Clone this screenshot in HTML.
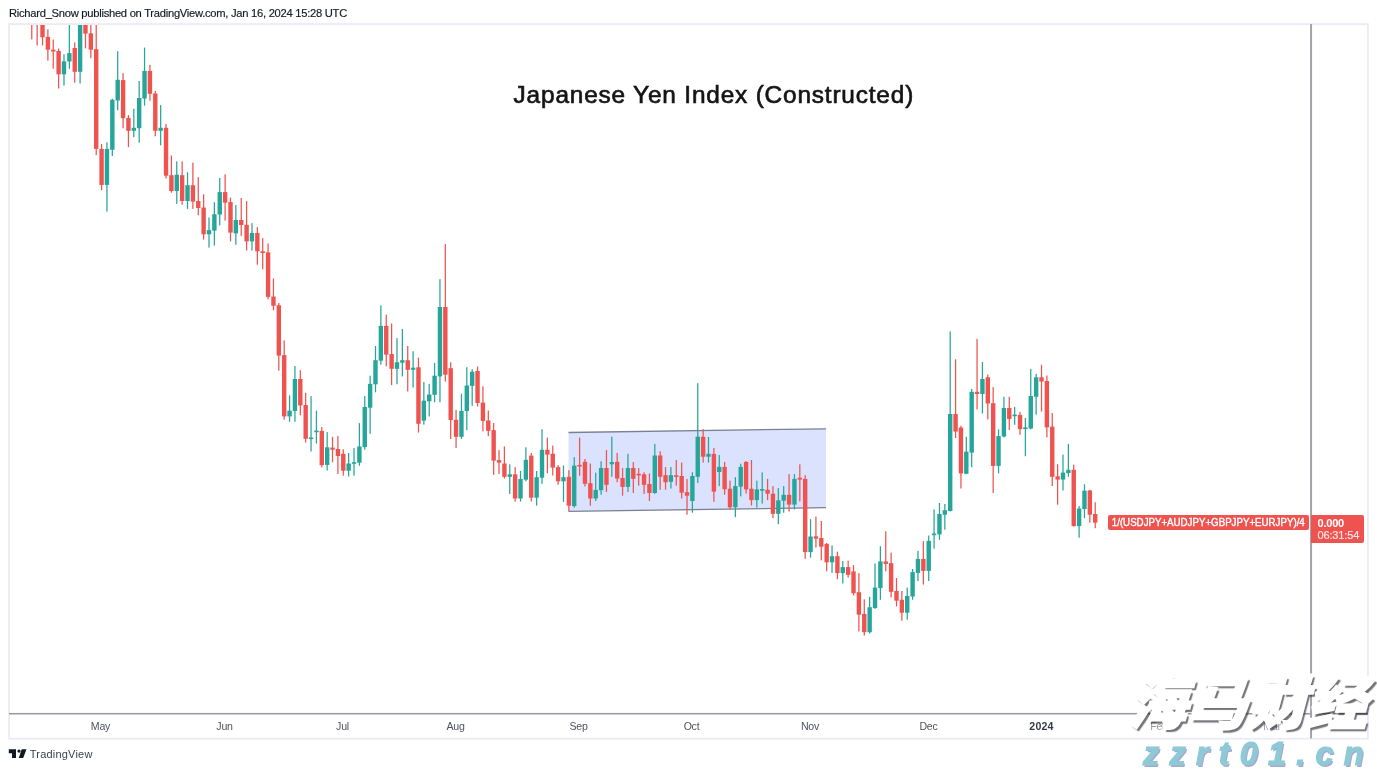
<!DOCTYPE html>
<html><head><meta charset="utf-8"><title>Japanese Yen Index</title>
<style>
html,body{margin:0;padding:0;background:#fff;}
body{width:1377px;height:770px;position:relative;overflow:hidden;font-family:"Liberation Sans","Noto Sans CJK SC",sans-serif;}
.abs{position:absolute;white-space:nowrap;}
#hdr{left:9px;top:6px;font-size:11.2px;color:#131722;letter-spacing:-0.27px;line-height:14px;-webkit-text-stroke:0.15px #131722;}
#frame{left:8px;top:23px;width:1360px;height:715px;border:1px solid #e4e6ee;box-sizing:border-box;}
#title{left:513.6px;top:79.65px;font-size:24.4px;line-height:30px;color:#141414;-webkit-text-stroke:0.65px #141414;letter-spacing:0.82px;}
.tl{top:718.5px;font-size:10.6px;line-height:14px;color:#50535e;transform:translateX(-50%);letter-spacing:-0.25px;}
.tl.b{font-weight:bold;color:#363a45;letter-spacing:0.2px;}
#lab1{left:1108px;top:515px;width:201px;height:15px;background:#ef5350;border-radius:2px;color:#fff;font-size:11px;line-height:15px;font-weight:normal;-webkit-text-stroke:0.4px #fff;text-align:center;}
#lab1 span{display:inline-block;transform:scaleX(.883);transform-origin:50% 50%;margin:0 -20px;}
#lab2{left:1311px;top:515px;width:53px;height:27.5px;background:#ef5350;border-radius:0 2px 2px 0;color:#fff;font-size:11px;line-height:12px;}
#lab2 b{display:block;margin:1.5px 0 0 6.5px;font-size:11px;letter-spacing:-0.2px;}
#lab2 span{display:block;margin:0 0 0 6.5px;color:#fde3e2;-webkit-text-stroke:0.2px #fde3e2;letter-spacing:-0.15px;}
#tv{left:29.8px;top:747.2px;font-size:11px;line-height:14px;color:#3a3e49;letter-spacing:0.2px;}
#wm1{left:1124px;top:664px;font-size:58px;line-height:70px;font-weight:900;color:#fff;-webkit-text-stroke:1.8px #fff;font-family:"Noto Sans CJK SC","WenQuanYi Zen Hei",sans-serif;transform-origin:0 100%;transform:skewX(-15deg) scaleX(1.035);text-shadow:2.8px 2.6px 1.1px rgba(20,20,30,.6);letter-spacing:0px;}
#wm2{left:1143px;top:733.5px;font-size:32.5px;line-height:40px;font-weight:bold;font-style:italic;color:#8ec9d6;letter-spacing:10.2px;text-shadow:1.5px 1.5px 0 #a9a9cf;-webkit-text-stroke:1.2px #8ec9d6;}
</style></head><body>
<div id="hdr" class="abs">Richard_Snow published on TradingView.com, Jan 16, 2024 15:28 UTC</div>
<svg class="abs" style="left:0;top:0" width="1377" height="770" viewBox="0 0 1377 770">
<defs><clipPath id="pane"><rect x="9" y="24" width="1302" height="689"/></clipPath></defs>
<g clip-path="url(#pane)">
<polygon points="568.5,432.5 826,428.8 826,507.7 568.5,511.3" fill="#dbe2fd"/>
<line x1="568.5" y1="432.5" x2="826" y2="428.8" stroke="#7b8094" stroke-width="1.3"/>
<line x1="568.5" y1="511.3" x2="826" y2="507.7" stroke="#7b8094" stroke-width="1.3"/>
<rect x="31.14" y="10.0" width="1.25" height="29.4" fill="#ef5350"/>
<rect x="29.56" y="9.2" width="4.4" height="1.6" fill="#ef5350"/>
<rect x="36.51" y="10.0" width="1.25" height="35.5" fill="#ef5350"/>
<rect x="34.93" y="9.2" width="4.4" height="1.6" fill="#ef5350"/>
<rect x="41.88" y="10.0" width="1.25" height="35.5" fill="#ef5350"/>
<rect x="40.30" y="10.0" width="4.4" height="27.3" fill="#ef5350"/>
<rect x="47.25" y="29.3" width="1.25" height="31.3" fill="#ef5350"/>
<rect x="45.67" y="36.9" width="4.4" height="12.8" fill="#ef5350"/>
<rect x="52.62" y="39.5" width="1.25" height="29.3" fill="#ef5350"/>
<rect x="51.04" y="49.7" width="4.4" height="1.8" fill="#ef5350"/>
<rect x="57.99" y="48.6" width="1.25" height="39.9" fill="#ef5350"/>
<rect x="56.42" y="51.0" width="4.4" height="23.3" fill="#ef5350"/>
<rect x="63.36" y="54.2" width="1.25" height="31.4" fill="#26a69a"/>
<rect x="61.79" y="61.3" width="4.4" height="13.0" fill="#26a69a"/>
<rect x="68.73" y="10.0" width="1.25" height="58.8" fill="#26a69a"/>
<rect x="67.16" y="53.1" width="4.4" height="8.4" fill="#26a69a"/>
<rect x="74.10" y="42.4" width="1.25" height="40.2" fill="#ef5350"/>
<rect x="72.53" y="48.0" width="4.4" height="23.8" fill="#ef5350"/>
<rect x="79.47" y="10.0" width="1.25" height="73.5" fill="#26a69a"/>
<rect x="77.90" y="10.0" width="4.4" height="61.8" fill="#26a69a"/>
<rect x="84.85" y="10.0" width="1.25" height="38.4" fill="#ef5350"/>
<rect x="83.27" y="10.0" width="4.4" height="23.6" fill="#ef5350"/>
<rect x="90.22" y="10.0" width="1.25" height="48.2" fill="#ef5350"/>
<rect x="88.64" y="33.3" width="4.4" height="16.4" fill="#ef5350"/>
<rect x="95.59" y="10.0" width="1.25" height="145.1" fill="#ef5350"/>
<rect x="94.01" y="49.2" width="4.4" height="99.7" fill="#ef5350"/>
<rect x="100.96" y="143.9" width="1.25" height="46.3" fill="#ef5350"/>
<rect x="99.38" y="148.9" width="4.4" height="36.0" fill="#ef5350"/>
<rect x="106.33" y="142.3" width="1.25" height="69.3" fill="#26a69a"/>
<rect x="104.75" y="148.9" width="4.4" height="36.0" fill="#26a69a"/>
<rect x="111.70" y="98.8" width="1.25" height="57.2" fill="#26a69a"/>
<rect x="110.13" y="99.8" width="4.4" height="50.0" fill="#26a69a"/>
<rect x="117.07" y="51.2" width="1.25" height="59.0" fill="#26a69a"/>
<rect x="115.50" y="79.8" width="4.4" height="20.7" fill="#26a69a"/>
<rect x="122.44" y="73.1" width="1.25" height="55.2" fill="#ef5350"/>
<rect x="120.87" y="80.1" width="4.4" height="38.1" fill="#ef5350"/>
<rect x="127.81" y="115.1" width="1.25" height="32.0" fill="#ef5350"/>
<rect x="126.24" y="118.0" width="4.4" height="12.8" fill="#ef5350"/>
<rect x="133.18" y="108.8" width="1.25" height="28.4" fill="#26a69a"/>
<rect x="131.61" y="127.8" width="4.4" height="3.0" fill="#26a69a"/>
<rect x="138.56" y="81.0" width="1.25" height="61.7" fill="#26a69a"/>
<rect x="136.98" y="98.0" width="4.4" height="30.2" fill="#26a69a"/>
<rect x="143.93" y="47.6" width="1.25" height="58.1" fill="#26a69a"/>
<rect x="142.35" y="70.9" width="4.4" height="27.6" fill="#26a69a"/>
<rect x="149.30" y="64.8" width="1.25" height="35.9" fill="#ef5350"/>
<rect x="147.72" y="70.9" width="4.4" height="22.9" fill="#ef5350"/>
<rect x="154.67" y="91.0" width="1.25" height="45.3" fill="#ef5350"/>
<rect x="153.09" y="93.5" width="4.4" height="37.3" fill="#ef5350"/>
<rect x="160.04" y="105.1" width="1.25" height="40.2" fill="#26a69a"/>
<rect x="158.46" y="127.8" width="4.4" height="3.0" fill="#26a69a"/>
<rect x="165.41" y="124.0" width="1.25" height="54.5" fill="#ef5350"/>
<rect x="163.84" y="127.8" width="4.4" height="47.9" fill="#ef5350"/>
<rect x="170.78" y="155.5" width="1.25" height="37.2" fill="#ef5350"/>
<rect x="169.21" y="175.2" width="4.4" height="15.8" fill="#ef5350"/>
<rect x="176.15" y="161.3" width="1.25" height="42.6" fill="#26a69a"/>
<rect x="174.58" y="174.7" width="4.4" height="16.3" fill="#26a69a"/>
<rect x="181.52" y="161.3" width="1.25" height="43.4" fill="#ef5350"/>
<rect x="179.95" y="175.2" width="4.4" height="25.8" fill="#ef5350"/>
<rect x="186.89" y="172.3" width="1.25" height="36.6" fill="#26a69a"/>
<rect x="185.32" y="185.2" width="4.4" height="15.8" fill="#26a69a"/>
<rect x="192.27" y="162.6" width="1.25" height="46.3" fill="#ef5350"/>
<rect x="190.69" y="185.2" width="4.4" height="16.4" fill="#ef5350"/>
<rect x="197.64" y="177.2" width="1.25" height="38.1" fill="#ef5350"/>
<rect x="196.06" y="201.0" width="4.4" height="7.0" fill="#ef5350"/>
<rect x="203.01" y="194.3" width="1.25" height="45.3" fill="#ef5350"/>
<rect x="201.43" y="207.6" width="4.4" height="26.7" fill="#ef5350"/>
<rect x="208.38" y="217.5" width="1.25" height="30.1" fill="#26a69a"/>
<rect x="206.80" y="230.1" width="4.4" height="4.2" fill="#26a69a"/>
<rect x="213.75" y="202.2" width="1.25" height="43.4" fill="#26a69a"/>
<rect x="212.17" y="214.2" width="4.4" height="16.4" fill="#26a69a"/>
<rect x="219.12" y="178.0" width="1.25" height="47.4" fill="#26a69a"/>
<rect x="217.55" y="192.1" width="4.4" height="22.4" fill="#26a69a"/>
<rect x="224.49" y="174.3" width="1.25" height="46.3" fill="#ef5350"/>
<rect x="222.92" y="192.1" width="4.4" height="10.5" fill="#ef5350"/>
<rect x="229.86" y="197.6" width="1.25" height="43.8" fill="#ef5350"/>
<rect x="228.29" y="202.1" width="4.4" height="30.5" fill="#ef5350"/>
<rect x="235.23" y="205.1" width="1.25" height="39.7" fill="#26a69a"/>
<rect x="233.66" y="220.0" width="4.4" height="13.4" fill="#26a69a"/>
<rect x="240.60" y="198.0" width="1.25" height="37.9" fill="#ef5350"/>
<rect x="239.03" y="220.0" width="4.4" height="5.0" fill="#ef5350"/>
<rect x="245.98" y="201.1" width="1.25" height="49.4" fill="#ef5350"/>
<rect x="244.40" y="224.8" width="4.4" height="16.6" fill="#ef5350"/>
<rect x="251.35" y="223.1" width="1.25" height="27.4" fill="#26a69a"/>
<rect x="249.77" y="232.9" width="4.4" height="8.5" fill="#26a69a"/>
<rect x="256.72" y="227.1" width="1.25" height="37.6" fill="#ef5350"/>
<rect x="255.14" y="232.9" width="4.4" height="18.4" fill="#ef5350"/>
<rect x="262.09" y="238.1" width="1.25" height="31.2" fill="#ef5350"/>
<rect x="260.51" y="251.3" width="4.4" height="1.7" fill="#ef5350"/>
<rect x="267.46" y="243.4" width="1.25" height="56.0" fill="#ef5350"/>
<rect x="265.88" y="252.3" width="4.4" height="44.6" fill="#ef5350"/>
<rect x="272.83" y="278.5" width="1.25" height="31.8" fill="#ef5350"/>
<rect x="271.26" y="296.5" width="4.4" height="9.3" fill="#ef5350"/>
<rect x="278.20" y="303.0" width="1.25" height="67.7" fill="#ef5350"/>
<rect x="276.63" y="305.3" width="4.4" height="50.3" fill="#ef5350"/>
<rect x="283.57" y="340.4" width="1.25" height="79.2" fill="#ef5350"/>
<rect x="282.00" y="355.1" width="4.4" height="61.3" fill="#ef5350"/>
<rect x="288.94" y="395.3" width="1.25" height="26.5" fill="#26a69a"/>
<rect x="287.37" y="410.7" width="4.4" height="5.7" fill="#26a69a"/>
<rect x="294.31" y="366.0" width="1.25" height="55.8" fill="#26a69a"/>
<rect x="292.74" y="379.0" width="4.4" height="32.0" fill="#26a69a"/>
<rect x="299.69" y="370.2" width="1.25" height="45.2" fill="#ef5350"/>
<rect x="298.11" y="379.0" width="4.4" height="26.5" fill="#ef5350"/>
<rect x="305.06" y="392.8" width="1.25" height="49.8" fill="#ef5350"/>
<rect x="303.48" y="405.0" width="4.4" height="33.8" fill="#ef5350"/>
<rect x="310.43" y="396.1" width="1.25" height="55.4" fill="#26a69a"/>
<rect x="308.85" y="437.5" width="4.4" height="1.6" fill="#26a69a"/>
<rect x="315.80" y="410.6" width="1.25" height="32.9" fill="#26a69a"/>
<rect x="314.22" y="430.6" width="4.4" height="1.6" fill="#26a69a"/>
<rect x="321.17" y="427.1" width="1.25" height="40.3" fill="#ef5350"/>
<rect x="319.59" y="430.9" width="4.4" height="34.3" fill="#ef5350"/>
<rect x="326.54" y="432.1" width="1.25" height="38.4" fill="#26a69a"/>
<rect x="324.97" y="447.3" width="4.4" height="17.6" fill="#26a69a"/>
<rect x="331.91" y="436.8" width="1.25" height="25.5" fill="#ef5350"/>
<rect x="330.34" y="447.6" width="4.4" height="2.1" fill="#ef5350"/>
<rect x="337.28" y="436.0" width="1.25" height="38.0" fill="#ef5350"/>
<rect x="335.71" y="449.0" width="4.4" height="7.0" fill="#ef5350"/>
<rect x="342.65" y="449.3" width="1.25" height="26.4" fill="#ef5350"/>
<rect x="341.08" y="453.8" width="4.4" height="16.9" fill="#ef5350"/>
<rect x="348.02" y="453.0" width="1.25" height="23.5" fill="#26a69a"/>
<rect x="346.45" y="463.5" width="4.4" height="7.2" fill="#26a69a"/>
<rect x="353.40" y="448.1" width="1.25" height="27.6" fill="#26a69a"/>
<rect x="351.82" y="462.2" width="4.4" height="1.6" fill="#26a69a"/>
<rect x="358.77" y="423.1" width="1.25" height="42.6" fill="#26a69a"/>
<rect x="357.19" y="446.5" width="4.4" height="16.2" fill="#26a69a"/>
<rect x="364.14" y="396.1" width="1.25" height="53.6" fill="#26a69a"/>
<rect x="362.56" y="407.0" width="4.4" height="40.1" fill="#26a69a"/>
<rect x="369.51" y="375.7" width="1.25" height="58.1" fill="#26a69a"/>
<rect x="367.93" y="383.9" width="4.4" height="23.8" fill="#26a69a"/>
<rect x="374.88" y="346.0" width="1.25" height="46.3" fill="#26a69a"/>
<rect x="373.30" y="360.2" width="4.4" height="24.1" fill="#26a69a"/>
<rect x="380.25" y="305.4" width="1.25" height="59.3" fill="#26a69a"/>
<rect x="378.68" y="325.9" width="4.4" height="34.8" fill="#26a69a"/>
<rect x="385.62" y="314.6" width="1.25" height="51.7" fill="#ef5350"/>
<rect x="384.05" y="325.9" width="4.4" height="28.7" fill="#ef5350"/>
<rect x="390.99" y="323.4" width="1.25" height="61.7" fill="#ef5350"/>
<rect x="389.42" y="354.0" width="4.4" height="14.8" fill="#ef5350"/>
<rect x="396.36" y="338.1" width="1.25" height="46.2" fill="#26a69a"/>
<rect x="394.79" y="362.2" width="4.4" height="6.6" fill="#26a69a"/>
<rect x="401.73" y="328.9" width="1.25" height="47.5" fill="#26a69a"/>
<rect x="400.16" y="360.2" width="4.4" height="2.5" fill="#26a69a"/>
<rect x="407.11" y="346.0" width="1.25" height="45.5" fill="#ef5350"/>
<rect x="405.53" y="360.2" width="4.4" height="9.6" fill="#ef5350"/>
<rect x="412.48" y="351.3" width="1.25" height="36.3" fill="#26a69a"/>
<rect x="410.90" y="367.7" width="4.4" height="2.1" fill="#26a69a"/>
<rect x="417.85" y="357.6" width="1.25" height="75.0" fill="#ef5350"/>
<rect x="416.27" y="367.3" width="4.4" height="56.5" fill="#ef5350"/>
<rect x="423.22" y="382.0" width="1.25" height="42.6" fill="#26a69a"/>
<rect x="421.64" y="400.7" width="4.4" height="19.9" fill="#26a69a"/>
<rect x="428.59" y="383.8" width="1.25" height="32.6" fill="#26a69a"/>
<rect x="427.01" y="394.5" width="4.4" height="6.8" fill="#26a69a"/>
<rect x="433.96" y="363.0" width="1.25" height="39.2" fill="#26a69a"/>
<rect x="432.39" y="375.7" width="4.4" height="19.1" fill="#26a69a"/>
<rect x="439.33" y="279.2" width="1.25" height="123.1" fill="#26a69a"/>
<rect x="437.76" y="307.0" width="4.4" height="69.4" fill="#26a69a"/>
<rect x="444.70" y="244.1" width="1.25" height="137.5" fill="#ef5350"/>
<rect x="443.13" y="307.0" width="4.4" height="67.7" fill="#ef5350"/>
<rect x="450.07" y="362.2" width="1.25" height="76.8" fill="#ef5350"/>
<rect x="448.50" y="368.2" width="4.4" height="51.9" fill="#ef5350"/>
<rect x="455.44" y="410.0" width="1.25" height="38.0" fill="#ef5350"/>
<rect x="453.87" y="419.8" width="4.4" height="17.0" fill="#ef5350"/>
<rect x="460.82" y="393.7" width="1.25" height="45.3" fill="#26a69a"/>
<rect x="459.24" y="410.9" width="4.4" height="25.9" fill="#26a69a"/>
<rect x="466.19" y="367.2" width="1.25" height="62.9" fill="#26a69a"/>
<rect x="464.61" y="385.5" width="4.4" height="25.5" fill="#26a69a"/>
<rect x="471.56" y="369.3" width="1.25" height="36.5" fill="#26a69a"/>
<rect x="469.98" y="371.8" width="4.4" height="14.1" fill="#26a69a"/>
<rect x="476.93" y="366.5" width="1.25" height="40.0" fill="#ef5350"/>
<rect x="475.35" y="371.0" width="4.4" height="32.0" fill="#ef5350"/>
<rect x="482.30" y="386.3" width="1.25" height="45.1" fill="#ef5350"/>
<rect x="480.72" y="402.6" width="4.4" height="18.3" fill="#ef5350"/>
<rect x="487.67" y="410.5" width="1.25" height="25.7" fill="#ef5350"/>
<rect x="486.10" y="420.5" width="4.4" height="10.4" fill="#ef5350"/>
<rect x="493.04" y="423.0" width="1.25" height="51.8" fill="#ef5350"/>
<rect x="491.47" y="430.1" width="4.4" height="30.5" fill="#ef5350"/>
<rect x="498.41" y="450.1" width="1.25" height="23.9" fill="#ef5350"/>
<rect x="496.84" y="460.1" width="4.4" height="2.5" fill="#ef5350"/>
<rect x="503.78" y="446.4" width="1.25" height="32.1" fill="#ef5350"/>
<rect x="502.21" y="463.5" width="4.4" height="13.3" fill="#ef5350"/>
<rect x="509.15" y="464.3" width="1.25" height="29.6" fill="#26a69a"/>
<rect x="507.58" y="474.3" width="4.4" height="2.5" fill="#26a69a"/>
<rect x="514.53" y="467.1" width="1.25" height="34.5" fill="#ef5350"/>
<rect x="512.95" y="474.3" width="4.4" height="24.2" fill="#ef5350"/>
<rect x="519.90" y="471.0" width="1.25" height="30.6" fill="#26a69a"/>
<rect x="518.32" y="479.0" width="4.4" height="19.5" fill="#26a69a"/>
<rect x="525.27" y="447.3" width="1.25" height="34.0" fill="#26a69a"/>
<rect x="523.69" y="459.8" width="4.4" height="19.9" fill="#26a69a"/>
<rect x="530.64" y="452.9" width="1.25" height="48.7" fill="#ef5350"/>
<rect x="529.06" y="455.6" width="4.4" height="42.1" fill="#ef5350"/>
<rect x="536.01" y="471.0" width="1.25" height="34.6" fill="#26a69a"/>
<rect x="534.43" y="477.2" width="4.4" height="20.5" fill="#26a69a"/>
<rect x="541.38" y="429.2" width="1.25" height="54.6" fill="#26a69a"/>
<rect x="539.81" y="449.8" width="4.4" height="27.9" fill="#26a69a"/>
<rect x="546.75" y="437.6" width="1.25" height="35.6" fill="#ef5350"/>
<rect x="545.18" y="449.8" width="4.4" height="4.8" fill="#ef5350"/>
<rect x="552.12" y="445.6" width="1.25" height="29.9" fill="#ef5350"/>
<rect x="550.55" y="453.8" width="4.4" height="13.8" fill="#ef5350"/>
<rect x="557.49" y="465.1" width="1.25" height="19.6" fill="#ef5350"/>
<rect x="555.92" y="467.1" width="4.4" height="14.2" fill="#ef5350"/>
<rect x="562.86" y="465.5" width="1.25" height="36.4" fill="#26a69a"/>
<rect x="561.29" y="477.2" width="4.4" height="4.1" fill="#26a69a"/>
<rect x="568.24" y="470.2" width="1.25" height="40.9" fill="#ef5350"/>
<rect x="566.66" y="476.8" width="4.4" height="28.9" fill="#ef5350"/>
<rect x="573.61" y="457.1" width="1.25" height="50.6" fill="#26a69a"/>
<rect x="572.03" y="465.6" width="4.4" height="40.5" fill="#26a69a"/>
<rect x="578.98" y="437.6" width="1.25" height="38.1" fill="#ef5350"/>
<rect x="577.40" y="464.9" width="4.4" height="1.6" fill="#ef5350"/>
<rect x="584.35" y="459.0" width="1.25" height="27.5" fill="#ef5350"/>
<rect x="582.77" y="461.8" width="4.4" height="22.0" fill="#ef5350"/>
<rect x="589.72" y="463.5" width="1.25" height="42.2" fill="#ef5350"/>
<rect x="588.14" y="483.2" width="4.4" height="15.3" fill="#ef5350"/>
<rect x="595.09" y="472.7" width="1.25" height="28.3" fill="#26a69a"/>
<rect x="593.51" y="489.9" width="4.4" height="8.6" fill="#26a69a"/>
<rect x="600.46" y="461.3" width="1.25" height="33.4" fill="#26a69a"/>
<rect x="598.89" y="468.0" width="4.4" height="22.2" fill="#26a69a"/>
<rect x="605.83" y="450.1" width="1.25" height="41.8" fill="#ef5350"/>
<rect x="604.26" y="468.0" width="4.4" height="16.8" fill="#ef5350"/>
<rect x="611.20" y="436.7" width="1.25" height="40.1" fill="#26a69a"/>
<rect x="609.63" y="462.1" width="4.4" height="2.2" fill="#26a69a"/>
<rect x="616.57" y="452.9" width="1.25" height="29.3" fill="#ef5350"/>
<rect x="615.00" y="461.8" width="4.4" height="16.7" fill="#ef5350"/>
<rect x="621.95" y="468.1" width="1.25" height="27.6" fill="#ef5350"/>
<rect x="620.37" y="478.0" width="4.4" height="8.9" fill="#ef5350"/>
<rect x="627.32" y="453.8" width="1.25" height="38.1" fill="#26a69a"/>
<rect x="625.74" y="468.0" width="4.4" height="18.9" fill="#26a69a"/>
<rect x="632.69" y="462.1" width="1.25" height="30.9" fill="#ef5350"/>
<rect x="631.11" y="468.0" width="4.4" height="10.8" fill="#ef5350"/>
<rect x="638.06" y="468.1" width="1.25" height="17.6" fill="#ef5350"/>
<rect x="636.48" y="473.8" width="4.4" height="1.6" fill="#ef5350"/>
<rect x="643.43" y="472.3" width="1.25" height="21.6" fill="#ef5350"/>
<rect x="641.85" y="474.3" width="4.4" height="10.5" fill="#ef5350"/>
<rect x="648.80" y="473.5" width="1.25" height="27.5" fill="#ef5350"/>
<rect x="647.23" y="484.0" width="4.4" height="9.0" fill="#ef5350"/>
<rect x="654.17" y="443.9" width="1.25" height="50.0" fill="#26a69a"/>
<rect x="652.60" y="455.5" width="4.4" height="37.5" fill="#26a69a"/>
<rect x="659.54" y="451.3" width="1.25" height="38.4" fill="#ef5350"/>
<rect x="657.97" y="455.5" width="4.4" height="21.3" fill="#ef5350"/>
<rect x="664.91" y="467.1" width="1.25" height="22.6" fill="#ef5350"/>
<rect x="663.34" y="475.2" width="4.4" height="7.1" fill="#ef5350"/>
<rect x="670.28" y="467.1" width="1.25" height="21.4" fill="#26a69a"/>
<rect x="668.71" y="475.2" width="4.4" height="6.6" fill="#26a69a"/>
<rect x="675.66" y="460.1" width="1.25" height="25.6" fill="#ef5350"/>
<rect x="674.08" y="475.3" width="4.4" height="1.6" fill="#ef5350"/>
<rect x="681.03" y="462.6" width="1.25" height="35.9" fill="#ef5350"/>
<rect x="679.45" y="476.0" width="4.4" height="16.7" fill="#ef5350"/>
<rect x="686.40" y="479.0" width="1.25" height="35.7" fill="#ef5350"/>
<rect x="684.82" y="492.2" width="4.4" height="3.5" fill="#ef5350"/>
<rect x="691.77" y="472.2" width="1.25" height="40.5" fill="#26a69a"/>
<rect x="690.19" y="476.0" width="4.4" height="25.0" fill="#26a69a"/>
<rect x="697.14" y="383.1" width="1.25" height="99.9" fill="#26a69a"/>
<rect x="695.56" y="436.7" width="4.4" height="40.1" fill="#26a69a"/>
<rect x="702.51" y="429.2" width="1.25" height="33.4" fill="#ef5350"/>
<rect x="700.93" y="436.8" width="4.4" height="19.9" fill="#ef5350"/>
<rect x="707.88" y="437.0" width="1.25" height="25.6" fill="#26a69a"/>
<rect x="706.31" y="453.8" width="4.4" height="2.9" fill="#26a69a"/>
<rect x="713.25" y="448.0" width="1.25" height="53.8" fill="#ef5350"/>
<rect x="711.68" y="453.9" width="4.4" height="37.7" fill="#ef5350"/>
<rect x="718.62" y="455.0" width="1.25" height="31.1" fill="#26a69a"/>
<rect x="717.05" y="466.9" width="4.4" height="5.1" fill="#26a69a"/>
<rect x="723.99" y="461.9" width="1.25" height="32.7" fill="#ef5350"/>
<rect x="722.42" y="466.9" width="4.4" height="22.3" fill="#ef5350"/>
<rect x="729.37" y="480.7" width="1.25" height="28.7" fill="#ef5350"/>
<rect x="727.79" y="488.7" width="4.4" height="18.6" fill="#ef5350"/>
<rect x="734.74" y="477.2" width="1.25" height="39.9" fill="#26a69a"/>
<rect x="733.16" y="486.1" width="4.4" height="21.2" fill="#26a69a"/>
<rect x="740.11" y="463.7" width="1.25" height="32.7" fill="#26a69a"/>
<rect x="738.53" y="466.9" width="4.4" height="19.7" fill="#26a69a"/>
<rect x="745.48" y="461.1" width="1.25" height="32.4" fill="#ef5350"/>
<rect x="743.90" y="461.9" width="4.4" height="27.5" fill="#ef5350"/>
<rect x="750.85" y="460.0" width="1.25" height="45.5" fill="#ef5350"/>
<rect x="749.27" y="488.7" width="4.4" height="11.4" fill="#ef5350"/>
<rect x="756.22" y="480.7" width="1.25" height="27.0" fill="#26a69a"/>
<rect x="754.64" y="489.4" width="4.4" height="10.7" fill="#26a69a"/>
<rect x="761.59" y="472.4" width="1.25" height="31.2" fill="#26a69a"/>
<rect x="760.02" y="489.1" width="4.4" height="1.6" fill="#26a69a"/>
<rect x="766.96" y="478.9" width="1.25" height="21.2" fill="#ef5350"/>
<rect x="765.39" y="489.8" width="4.4" height="3.9" fill="#ef5350"/>
<rect x="772.33" y="486.1" width="1.25" height="32.0" fill="#ef5350"/>
<rect x="770.76" y="493.7" width="4.4" height="20.1" fill="#ef5350"/>
<rect x="777.70" y="488.1" width="1.25" height="36.1" fill="#26a69a"/>
<rect x="776.13" y="500.3" width="4.4" height="13.5" fill="#26a69a"/>
<rect x="783.08" y="486.1" width="1.25" height="26.6" fill="#26a69a"/>
<rect x="781.50" y="494.8" width="4.4" height="5.9" fill="#26a69a"/>
<rect x="788.45" y="474.1" width="1.25" height="37.5" fill="#ef5350"/>
<rect x="786.87" y="494.8" width="4.4" height="9.8" fill="#ef5350"/>
<rect x="793.82" y="474.1" width="1.25" height="35.3" fill="#26a69a"/>
<rect x="792.24" y="478.9" width="4.4" height="25.7" fill="#26a69a"/>
<rect x="799.19" y="464.3" width="1.25" height="37.1" fill="#ef5350"/>
<rect x="797.61" y="477.8" width="4.4" height="1.8" fill="#ef5350"/>
<rect x="804.56" y="475.2" width="1.25" height="83.6" fill="#ef5350"/>
<rect x="802.98" y="478.9" width="4.4" height="73.2" fill="#ef5350"/>
<rect x="809.93" y="519.2" width="1.25" height="38.4" fill="#26a69a"/>
<rect x="808.36" y="536.5" width="4.4" height="15.6" fill="#26a69a"/>
<rect x="815.30" y="516.6" width="1.25" height="31.0" fill="#ef5350"/>
<rect x="813.73" y="536.3" width="4.4" height="2.4" fill="#ef5350"/>
<rect x="820.67" y="521.0" width="1.25" height="39.4" fill="#ef5350"/>
<rect x="819.10" y="538.0" width="4.4" height="8.7" fill="#ef5350"/>
<rect x="826.04" y="543.0" width="1.25" height="28.3" fill="#ef5350"/>
<rect x="824.47" y="543.9" width="4.4" height="18.4" fill="#ef5350"/>
<rect x="831.41" y="545.4" width="1.25" height="27.5" fill="#26a69a"/>
<rect x="829.84" y="556.2" width="4.4" height="6.1" fill="#26a69a"/>
<rect x="836.79" y="551.7" width="1.25" height="27.6" fill="#ef5350"/>
<rect x="835.21" y="556.2" width="4.4" height="16.9" fill="#ef5350"/>
<rect x="842.16" y="560.9" width="1.25" height="22.6" fill="#26a69a"/>
<rect x="840.58" y="567.1" width="4.4" height="6.0" fill="#26a69a"/>
<rect x="847.53" y="560.6" width="1.25" height="17.0" fill="#ef5350"/>
<rect x="845.95" y="567.1" width="4.4" height="7.7" fill="#ef5350"/>
<rect x="852.90" y="565.1" width="1.25" height="30.4" fill="#ef5350"/>
<rect x="851.32" y="571.4" width="4.4" height="21.8" fill="#ef5350"/>
<rect x="858.27" y="573.1" width="1.25" height="58.3" fill="#ef5350"/>
<rect x="856.69" y="592.2" width="4.4" height="22.5" fill="#ef5350"/>
<rect x="863.64" y="599.3" width="1.25" height="36.3" fill="#ef5350"/>
<rect x="862.07" y="613.9" width="4.4" height="18.3" fill="#ef5350"/>
<rect x="869.01" y="596.8" width="1.25" height="36.8" fill="#26a69a"/>
<rect x="867.44" y="607.2" width="4.4" height="25.0" fill="#26a69a"/>
<rect x="874.38" y="563.4" width="1.25" height="45.5" fill="#26a69a"/>
<rect x="872.81" y="587.6" width="4.4" height="20.4" fill="#26a69a"/>
<rect x="879.75" y="546.2" width="1.25" height="53.6" fill="#26a69a"/>
<rect x="878.18" y="561.4" width="4.4" height="26.7" fill="#26a69a"/>
<rect x="885.12" y="531.2" width="1.25" height="40.1" fill="#ef5350"/>
<rect x="883.55" y="561.4" width="4.4" height="2.5" fill="#ef5350"/>
<rect x="890.50" y="552.6" width="1.25" height="44.7" fill="#ef5350"/>
<rect x="888.92" y="563.1" width="4.4" height="28.7" fill="#ef5350"/>
<rect x="895.87" y="578.0" width="1.25" height="28.4" fill="#ef5350"/>
<rect x="894.29" y="591.0" width="4.4" height="9.7" fill="#ef5350"/>
<rect x="901.24" y="591.0" width="1.25" height="29.7" fill="#ef5350"/>
<rect x="899.66" y="599.8" width="4.4" height="12.9" fill="#ef5350"/>
<rect x="906.61" y="587.6" width="1.25" height="32.1" fill="#26a69a"/>
<rect x="905.03" y="596.0" width="4.4" height="16.7" fill="#26a69a"/>
<rect x="911.98" y="568.9" width="1.25" height="30.8" fill="#26a69a"/>
<rect x="910.40" y="572.1" width="4.4" height="24.4" fill="#26a69a"/>
<rect x="917.35" y="550.9" width="1.25" height="30.1" fill="#26a69a"/>
<rect x="915.77" y="558.9" width="4.4" height="14.0" fill="#26a69a"/>
<rect x="922.72" y="541.2" width="1.25" height="43.4" fill="#ef5350"/>
<rect x="921.15" y="558.9" width="4.4" height="12.0" fill="#ef5350"/>
<rect x="928.09" y="535.5" width="1.25" height="45.5" fill="#26a69a"/>
<rect x="926.52" y="540.9" width="4.4" height="30.0" fill="#26a69a"/>
<rect x="933.46" y="509.4" width="1.25" height="39.3" fill="#26a69a"/>
<rect x="931.89" y="533.6" width="4.4" height="1.6" fill="#26a69a"/>
<rect x="938.83" y="503.0" width="1.25" height="36.8" fill="#26a69a"/>
<rect x="937.26" y="514.0" width="4.4" height="20.4" fill="#26a69a"/>
<rect x="944.21" y="504.0" width="1.25" height="25.7" fill="#26a69a"/>
<rect x="942.63" y="510.2" width="4.4" height="4.5" fill="#26a69a"/>
<rect x="949.58" y="331.4" width="1.25" height="180.1" fill="#26a69a"/>
<rect x="948.00" y="414.0" width="4.4" height="97.0" fill="#26a69a"/>
<rect x="954.95" y="359.3" width="1.25" height="78.7" fill="#ef5350"/>
<rect x="953.37" y="414.0" width="4.4" height="17.6" fill="#ef5350"/>
<rect x="960.32" y="425.7" width="1.25" height="62.8" fill="#ef5350"/>
<rect x="958.74" y="427.6" width="4.4" height="45.8" fill="#ef5350"/>
<rect x="965.69" y="436.8" width="1.25" height="37.4" fill="#26a69a"/>
<rect x="964.11" y="451.7" width="4.4" height="22.1" fill="#26a69a"/>
<rect x="971.06" y="389.0" width="1.25" height="78.1" fill="#26a69a"/>
<rect x="969.49" y="391.8" width="4.4" height="60.8" fill="#26a69a"/>
<rect x="976.43" y="338.9" width="1.25" height="70.5" fill="#ef5350"/>
<rect x="974.86" y="391.8" width="4.4" height="2.2" fill="#ef5350"/>
<rect x="981.80" y="362.1" width="1.25" height="51.4" fill="#26a69a"/>
<rect x="980.23" y="379.0" width="4.4" height="15.0" fill="#26a69a"/>
<rect x="987.17" y="374.6" width="1.25" height="44.8" fill="#ef5350"/>
<rect x="985.60" y="377.3" width="4.4" height="26.2" fill="#ef5350"/>
<rect x="992.54" y="387.1" width="1.25" height="105.9" fill="#ef5350"/>
<rect x="990.97" y="403.2" width="4.4" height="62.7" fill="#ef5350"/>
<rect x="997.92" y="429.4" width="1.25" height="44.0" fill="#26a69a"/>
<rect x="996.34" y="436.1" width="4.4" height="29.8" fill="#26a69a"/>
<rect x="1003.29" y="396.8" width="1.25" height="40.6" fill="#26a69a"/>
<rect x="1001.71" y="408.0" width="4.4" height="28.5" fill="#26a69a"/>
<rect x="1008.66" y="396.8" width="1.25" height="33.3" fill="#ef5350"/>
<rect x="1007.08" y="408.0" width="4.4" height="11.0" fill="#ef5350"/>
<rect x="1014.03" y="406.9" width="1.25" height="17.9" fill="#26a69a"/>
<rect x="1012.45" y="414.6" width="4.4" height="1.6" fill="#26a69a"/>
<rect x="1019.40" y="411.9" width="1.25" height="22.9" fill="#ef5350"/>
<rect x="1017.82" y="414.9" width="4.4" height="14.2" fill="#ef5350"/>
<rect x="1024.77" y="418.0" width="1.25" height="38.2" fill="#26a69a"/>
<rect x="1023.20" y="427.4" width="4.4" height="1.6" fill="#26a69a"/>
<rect x="1030.14" y="368.9" width="1.25" height="60.5" fill="#26a69a"/>
<rect x="1028.57" y="396.0" width="4.4" height="32.5" fill="#26a69a"/>
<rect x="1035.51" y="373.8" width="1.25" height="40.9" fill="#26a69a"/>
<rect x="1033.94" y="377.3" width="4.4" height="19.5" fill="#26a69a"/>
<rect x="1040.88" y="364.8" width="1.25" height="46.7" fill="#ef5350"/>
<rect x="1039.31" y="377.3" width="4.4" height="4.2" fill="#ef5350"/>
<rect x="1046.25" y="375.5" width="1.25" height="61.9" fill="#ef5350"/>
<rect x="1044.68" y="381.0" width="4.4" height="46.4" fill="#ef5350"/>
<rect x="1051.63" y="413.0" width="1.25" height="73.0" fill="#ef5350"/>
<rect x="1050.05" y="426.6" width="4.4" height="50.2" fill="#ef5350"/>
<rect x="1057.00" y="464.3" width="1.25" height="40.4" fill="#ef5350"/>
<rect x="1055.42" y="476.3" width="4.4" height="3.3" fill="#ef5350"/>
<rect x="1062.37" y="454.6" width="1.25" height="35.9" fill="#26a69a"/>
<rect x="1060.79" y="472.6" width="4.4" height="7.0" fill="#26a69a"/>
<rect x="1067.74" y="443.9" width="1.25" height="32.9" fill="#26a69a"/>
<rect x="1066.16" y="469.8" width="4.4" height="3.3" fill="#26a69a"/>
<rect x="1073.11" y="464.6" width="1.25" height="61.9" fill="#ef5350"/>
<rect x="1071.53" y="469.8" width="4.4" height="56.3" fill="#ef5350"/>
<rect x="1078.48" y="506.0" width="1.25" height="31.8" fill="#26a69a"/>
<rect x="1076.90" y="508.5" width="4.4" height="17.6" fill="#26a69a"/>
<rect x="1083.85" y="484.3" width="1.25" height="33.9" fill="#26a69a"/>
<rect x="1082.28" y="490.7" width="4.4" height="18.3" fill="#26a69a"/>
<rect x="1089.22" y="489.8" width="1.25" height="32.9" fill="#ef5350"/>
<rect x="1087.65" y="490.5" width="4.4" height="24.2" fill="#ef5350"/>
<rect x="1094.59" y="502.2" width="1.25" height="26.0" fill="#ef5350"/>
<rect x="1093.02" y="514.0" width="4.4" height="8.7" fill="#ef5350"/>
</g>
<rect x="9.1" y="24.1" width="1358.8" height="714.6" fill="none" stroke="#eaecf3" stroke-width="1.8"/>
<rect x="9" y="712.95" width="1359" height="1.55" fill="#989aa2"/>
<rect x="1310.05" y="24" width="2" height="714.5" fill="#a3a4aa"/>
<g transform="translate(8.8,749.2)" fill="#131722">
<path d="M0 0h7.2v8.8h-4v-4.8H0z"/><circle cx="10.2" cy="1.85" r="1.65"/><path d="M12.9 0h4.8l-3.3 8.8h-4.4z"/>
</g>
</svg>
<div class="abs tl" style="left:100.5px">May</div>
<div class="abs tl" style="left:224.5px">Jun</div>
<div class="abs tl" style="left:342.5px">Jul</div>
<div class="abs tl" style="left:455.5px">Aug</div>
<div class="abs tl" style="left:578.5px">Sep</div>
<div class="abs tl" style="left:691.5px">Oct</div>
<div class="abs tl" style="left:810px">Nov</div>
<div class="abs tl" style="left:928.5px">Dec</div>
<div class="abs tl b" style="left:1041.5px">2024</div>
<div class="abs tl" style="left:1159px;color:#9a9da6">Feb</div>
<div class="abs tl" style="left:1272px;color:#9a9da6">Mar</div>
<div id="title" class="abs">Japanese Yen Index (Constructed)</div>
<div id="lab1" class="abs"><span>1/(USDJPY+AUDJPY+GBPJPY+EURJPY)/4</span></div>
<div id="lab2" class="abs"><b>0.000</b><span>06:31:54</span></div>
<div id="tv" class="abs">TradingView</div>
<div id="wm1" class="abs">海马财经</div>
<div id="wm2" class="abs">zzrt01.cn</div>
</body></html>
